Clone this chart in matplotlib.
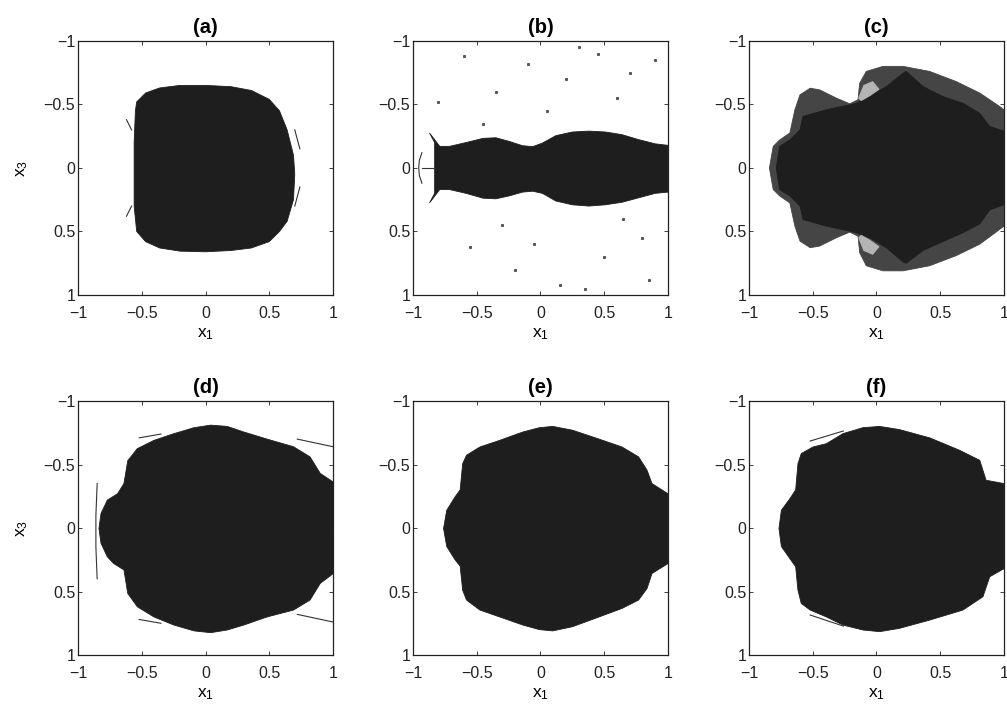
import matplotlib
matplotlib.use("Agg")
import matplotlib.pyplot as plt

plt.rcParams['font.family'] = ['Liberation Sans', 'DejaVu Sans']
plt.rcParams['mathtext.default'] = 'regular'

FILL = '#1e1e1e'
FRINGE = '#454545'

# basin outlines (x1, x3)
a_x1 = [-0.54, -0.47, -0.36, -0.2, 0.0, 0.2, 0.36, 0.5, 0.58, 0.64, 0.69, 0.70, 0.69, 0.64, 0.58,
        0.5, 0.36, 0.2, 0.0, -0.2, -0.36, -0.47, -0.54, -0.56, -0.56, -0.55]
a_x3 = [-0.52, -0.59, -0.63, -0.65, -0.65, -0.64, -0.61, -0.54, -0.45, -0.3, -0.1, 0.05, 0.25, 0.42,
        0.5, 0.58, 0.63, 0.65, 0.66, 0.655, 0.63, 0.58, 0.5, 0.3, -0.2, -0.45]

b_x1 = [-0.83, -0.87, -0.79, -0.714, -0.583, -0.45, -0.35, -0.245, -0.14, -0.06, 0.016, 0.12, 0.25,
        0.38, 0.51, 0.64, 0.77, 0.90, 1.0,
        1.0, 0.90, 0.77, 0.64, 0.51, 0.38, 0.25, 0.12, 0.016, -0.06, -0.14, -0.245, -0.35, -0.45,
        -0.583, -0.714, -0.79, -0.87, -0.83]
b_x3 = [-0.20, -0.275, -0.17, -0.17, -0.20, -0.233, -0.238, -0.209, -0.175, -0.168, -0.196, -0.254,
        -0.283, -0.29, -0.283, -0.262, -0.223, -0.19, -0.178,
        0.19, 0.20, 0.235, 0.27, 0.29, 0.30, 0.29, 0.26, 0.2, 0.183, 0.19, 0.22, 0.243, 0.238,
        0.20, 0.17, 0.17, 0.275, 0.20]

c_out_x1 = [-0.84, -0.81, -0.76, -0.68, -0.64, -0.60, -0.52, -0.446, -0.315, -0.21, -0.145, -0.132,
            -0.08, 0.051, 0.208, 0.417, 0.626, 0.81, 0.966, 1.0,
            1.0, 0.966, 0.81, 0.626, 0.417, 0.208, 0.051, -0.08, -0.132, -0.145, -0.21, -0.315,
            -0.446, -0.52, -0.60, -0.64, -0.68, -0.76, -0.81]
c_out_x3 = [0.0, -0.17, -0.22, -0.275, -0.458, -0.576, -0.628, -0.615, -0.55, -0.505, -0.537, -0.667,
            -0.76, -0.80, -0.80, -0.76, -0.68, -0.59, -0.484, -0.458,
            0.458, 0.484, 0.60, 0.69, 0.77, 0.81, 0.81, 0.77, 0.667, 0.537, 0.505, 0.55,
            0.615, 0.628, 0.576, 0.458, 0.275, 0.22, 0.17]
c_core_x1 = [-0.786, -0.76, -0.68, -0.60, -0.576, -0.393, -0.21, -0.158, -0.054, 0.077, 0.208, 0.234,
             0.365, 0.52, 0.678, 0.81, 0.888, 1.0,
             1.0, 0.888, 0.81, 0.678, 0.52, 0.365, 0.234, 0.208, 0.077, -0.054, -0.158, -0.21,
             -0.393, -0.576, -0.60, -0.68, -0.76]
c_core_x3 = [0.0, -0.17, -0.22, -0.30, -0.406, -0.458, -0.497, -0.51, -0.563, -0.641, -0.746, -0.76,
             -0.641, -0.563, -0.51, -0.43, -0.327, -0.29,
             0.29, 0.33, 0.44, 0.51, 0.58, 0.65, 0.75, 0.74, 0.628, 0.55, 0.51, 0.497,
             0.458, 0.406, 0.30, 0.22, 0.17]
# light pockets inside the fringe of (c)
c_pocket_x1 = [-0.14, -0.10, -0.03, 0.02, -0.05, -0.12]
c_pocket_x3 = [-0.55, -0.65, -0.68, -0.62, -0.57, -0.53]
c_pocket2_x1 = [-0.14, -0.10, -0.03, 0.02, -0.05, -0.12]
c_pocket2_x3 = [0.55, 0.65, 0.68, 0.62, 0.57, 0.53]

d_x1 = [-0.836, -0.82, -0.77, -0.69, -0.64, -0.61, -0.535, -0.405, -0.248, -0.09, 0.04, 0.17, 0.30,
        0.483, 0.69, 0.82, 0.90, 1.0,
        1.0, 0.90, 0.82, 0.69, 0.483, 0.30, 0.17, 0.04, -0.09, -0.248, -0.405, -0.535, -0.61,
        -0.64, -0.72, -0.77, -0.82]
d_x3 = [0.004, -0.114, -0.22, -0.27, -0.35, -0.53, -0.625, -0.69, -0.743, -0.79, -0.81, -0.80, -0.756,
        -0.70, -0.64, -0.56, -0.43, -0.363,
        0.36, 0.436, 0.567, 0.646, 0.70, 0.764, 0.803, 0.824, 0.81, 0.764, 0.70, 0.62, 0.515,
        0.33, 0.28, 0.227, 0.12]

e_x1 = [-0.76, -0.735, -0.67, -0.63, -0.61, -0.58, -0.475, -0.32, -0.138, -0.008, 0.096, 0.252, 0.46,
        0.64, 0.77, 0.836, 0.875, 1.0,
        1.0, 0.875, 0.836, 0.77, 0.64, 0.46, 0.252, 0.096, -0.008, -0.138, -0.32, -0.475, -0.58,
        -0.61, -0.63, -0.67, -0.735]
e_x3 = [0.004, -0.14, -0.245, -0.30, -0.507, -0.573, -0.638, -0.69, -0.756, -0.79, -0.80, -0.77, -0.70,
        -0.638, -0.56, -0.455, -0.35, -0.27,
        0.28, 0.358, 0.476, 0.567, 0.633, 0.70, 0.777, 0.81, 0.80, 0.764, 0.70, 0.646, 0.567,
        0.49, 0.30, 0.25, 0.146]

f_x1 = [-0.765, -0.746, -0.68, -0.634, -0.616, -0.59, -0.498, -0.393, -0.263, -0.106, 0.025, 0.18,
        0.417, 0.652, 0.81, 0.86, 1.0,
        1.0, 0.888, 0.835, 0.678, 0.417, 0.18, 0.025, -0.106, -0.263, -0.393, -0.52, -0.59,
        -0.616, -0.634, -0.68, -0.746]
f_x3 = [0.004, -0.14, -0.23, -0.30, -0.507, -0.586, -0.638, -0.664, -0.743, -0.79, -0.80, -0.775,
        -0.71, -0.612, -0.533, -0.376, -0.35,
        0.32, 0.384, 0.541, 0.646, 0.725, 0.79, 0.816, 0.803, 0.764, 0.70, 0.646, 0.594,
        0.49, 0.305, 0.24, 0.146]

# thin streaks / arcs near the basin edges
streaks = {
    'a': [([-0.62, -0.58], [-0.38, -0.30]), ([-0.62, -0.58], [0.38, 0.30]),
          ([0.70, 0.74], [-0.30, -0.15]), ([0.70, 0.74], [0.30, 0.15])],
    'b': [([-0.93, -0.83], [0.0, 0.0]), ([-0.93, -0.95, -0.955, -0.95, -0.93], [-0.12, -0.06, 0.0, 0.06, 0.12])],
    'd': [([-0.52, -0.35], [-0.71, -0.74]), ([-0.52, -0.35], [0.72, 0.75]),
          ([-0.85, -0.86, -0.86, -0.85], [-0.35, -0.1, 0.15, 0.4]),
          ([0.72, 1.0], [-0.70, -0.64]), ([0.72, 1.0], [0.68, 0.74])],
    'f': [([-0.52, -0.26], [-0.685, -0.764]), ([-0.52, -0.26], [0.685, 0.772])],
}

# sparse isolated points in (b)
b_dots_x1 = [-0.6, -0.35, -0.1, 0.2, 0.45, 0.7, 0.9, -0.45, 0.05, 0.6, -0.8, 0.3, -0.2, 0.8,
             -0.55, 0.15, 0.5, 0.85, -0.3, 0.65, 0.35, -0.05]
b_dots_x3 = [-0.88, -0.6, -0.82, -0.7, -0.9, -0.75, -0.85, -0.35, -0.45, -0.55, -0.52, -0.95,
             0.8, 0.55, 0.62, 0.92, 0.7, 0.88, 0.45, 0.4, 0.95, 0.6]

panels = [
    ('(a)', [(a_x1, a_x3, FILL)]),
    ('(b)', [(b_x1, b_x3, FILL)]),
    ('(c)', [(c_out_x1, c_out_x3, FRINGE), (c_core_x1, c_core_x3, FILL),
             (c_pocket_x1, c_pocket_x3, '#b5b5b5'), (c_pocket2_x1, c_pocket2_x3, '#b5b5b5')]),
    ('(d)', [(d_x1, d_x3, FILL)]),
    ('(e)', [(e_x1, e_x3, FILL)]),
    ('(f)', [(f_x1, f_x3, FILL)]),
]

fig = plt.figure(figsize=(10.07, 7.06), dpi=100)
lefts = [0.0775, 0.4101, 0.7438]
bottoms = [0.5822, 0.0722]
w, h = 0.2532, 0.3598
tick_txt = ['\u22121', '\u22120.5', '0', '0.5', '1']

for i, (title, shapes) in enumerate(panels):
    ax = fig.add_axes([lefts[i % 3], bottoms[i // 3], w, h])
    for xs, ys, col in shapes:
        ax.fill(xs, ys, color=col, lw=0.6, ec=col)
    key = title[1]
    for xs, ys in streaks.get(key, []):
        ax.plot(xs, ys, color='#333333', lw=0.8)
    if key == 'b':
        ax.plot(b_dots_x1, b_dots_x3, ls='none', marker='s', ms=1.2, color='#555555')
    ax.set_xlim(-1, 1)
    ax.set_ylim(1, -1)
    ticks = [-1, -0.5, 0, 0.5, 1]
    ax.set_xticks(ticks)
    ax.set_yticks(ticks)
    ax.set_xticklabels(tick_txt)
    ax.set_yticklabels(tick_txt)
    ax.tick_params(direction='in', length=3, width=0.6, top=True, right=True,
                   labelsize=11.5, colors='#222222')
    ax.tick_params(axis='x', pad=8)
    ax.tick_params(axis='y', pad=2)
    for s in ax.spines.values():
        s.set_linewidth(0.9)
        s.set_color('#222222')
    ax.set_title(title, fontsize=14.5, fontweight='bold', pad=6)
    ax.set_xlabel('x$_1$', fontsize=12.5, labelpad=3.5)
    if i % 3 == 0:
        ax.set_ylabel('x$_3$', fontsize=12.5, labelpad=10)

fig.savefig('out.png', dpi=100)
